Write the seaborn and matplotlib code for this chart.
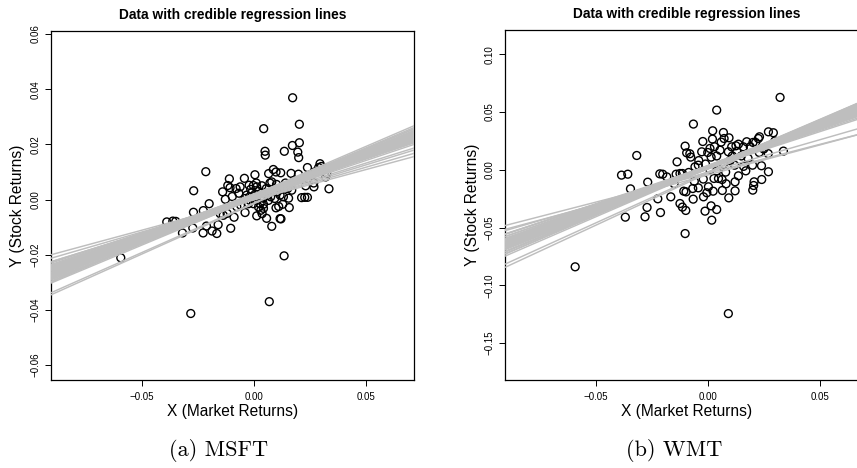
import numpy as np
import pandas as pd
import matplotlib
matplotlib.use("Agg")
import matplotlib.pyplot as plt
import seaborn as sns

sns.set_style("ticks")
plt.rcParams["font.family"] = ["Liberation Sans", "DejaVu Sans"]
plt.rcParams["text.color"] = "black"
plt.rcParams["axes.labelcolor"] = "black"
plt.rcParams["xtick.color"] = "black"
plt.rcParams["ytick.color"] = "black"

# ---------------- data ----------------
msft_x = [0.0172, 0.0043, 0.0202, 0.0202, 0.0171, 0.0135, 0.0049, 0.0050, 0.0195, 0.0199,
          -0.0215, 0.0294, 0.0238, 0.0004, -0.0043, -0.0110, 0.0065, 0.0086, 0.0098, 0.0119,
          0.0165, 0.0198, 0.0288, 0.0319, 0.0334, 0.0267, 0.0266, 0.0212, 0.0226, 0.0238,
          0.0154, 0.0157, 0.0128, 0.0116, 0.0120, 0.0079, 0.0056, 0.0098, 0.0134, 0.0068,
          -0.0282, -0.0594, -0.0269, -0.0200, -0.0270, -0.0226, -0.0389, -0.0362, -0.0349, -0.0319,
          -0.0273, -0.0227, -0.0212, -0.0187, -0.0166, -0.0160, -0.0140, -0.0128, -0.0104, -0.0089,
          -0.0040, -0.0068, -0.0117, -0.0107, -0.0097, -0.0077, -0.0022, -0.0015, -0.0003, 0.0012,
          -0.0033, 0.0012, 0.0027, 0.0042, 0.0012, 0.0030, 0.0036, 0.0042, 0.0071, 0.0079,
          0.0101, 0.0116, 0.0131, 0.0168, 0.0074, 0.0092, 0.0049, 0.0064, -0.0137, -0.0151,
          -0.0062, -0.0018, -0.0003, -0.0025, 0.0020, -0.0040, 0.0324, 0.0020, 0.0030, 0.0005,
          -0.0010, 0.0055, 0.0085, 0.0140, 0.0180, 0.0230, -0.0060, -0.0080, 0.0010, 0.0035,
          -0.0120, 0.0100, 0.0150, 0.0060, 0.0000, 0.0040, -0.0020, 0.0110, 0.0270, 0.0300]
msft_y = [0.0369, 0.0257, 0.0273, 0.0206, 0.0196, 0.0175, 0.0175, 0.0161, 0.0172, 0.0152,
          0.0101, 0.0130, 0.0116, 0.0090, 0.0077, 0.0075, 0.0094, 0.0109, 0.0100, 0.0097,
          0.0095, 0.0092, 0.0116, 0.0082, 0.0039, 0.0046, 0.0060, 0.0007, 0.0008, 0.0008,
          0.0005, -0.0029, -0.0017, -0.0069, -0.0070, -0.0097, -0.0068, -0.0030, -0.0204, -0.0370,
          -0.0413, -0.0211, 0.0032, -0.0015, -0.0046, -0.0040, -0.0081, -0.0078, -0.0079, -0.0121,
          -0.0103, -0.0121, -0.0096, -0.0114, -0.0123, -0.0091, 0.0028, 0.0001, -0.0104, -0.0064,
          -0.0047, 0.0023, 0.0051, 0.0043, 0.0011, -0.0026, 0.0052, 0.0037, 0.0051, 0.0046,
          0.0016, -0.0003, -0.0015, -0.0017, -0.0059, -0.0039, -0.0051, -0.0032, 0.0060, 0.0064,
          0.0028, 0.0016, 0.0010, 0.0034, 0.0010, 0.0004, 0.0022, -0.0003, -0.0057, -0.0051,
          0.0046, -0.0003, -0.0015, -0.0015, -0.0027, 0.0004, 0.0094, 0.0030, 0.0010, 0.0020,
          0.0025, 0.0040, 0.0030, 0.0060, 0.0070, 0.0050, -0.0020, 0.0040, 0.0060, 0.0050,
          -0.0050, 0.0055, 0.0040, 0.0015, 0.0000, 0.0005, 0.0010, -0.0025, 0.0100, 0.0120]

msft_intercept = [0.0012, 0.0008, 0.0015, 0.0010, 0.0005, 0.0018, 0.0011, 0.0014, 0.0007, 0.0020,
                  0.0003, 0.0016, 0.0009, 0.0013, 0.0006, 0.0019, 0.0010, 0.0004, 0.0017, 0.0012,
                  0.0008, 0.0015, 0.0002, 0.0021, 0.0011, 0.0007, 0.0014, 0.0018, 0.0005, 0.0010,
                  0.0013, 0.0009, 0.0016, 0.0006, 0.0012, 0.0003,
                  -0.0001, 0.0000, -0.0015, -0.0012, 0.0001, 0.0005]
msft_slope = [0.305, 0.312, 0.298, 0.320, 0.290, 0.315, 0.285, 0.330, 0.300, 0.308,
              0.325, 0.278, 0.338, 0.295, 0.318, 0.290, 0.275, 0.310, 0.335, 0.322,
              0.282, 0.345, 0.300, 0.300, 0.312, 0.328, 0.270, 0.350, 0.340, 0.295,
              0.305, 0.288, 0.322, 0.272, 0.342, 0.315,
              0.220, 0.235, 0.365, 0.360, 0.250, 0.255]

wmt_x = [0.0323, 0.0040, -0.0064, 0.0022, 0.0070, 0.0271, 0.0293, 0.0231, 0.0226, -0.0022,
         0.0021, 0.0073, 0.0095, -0.0101, -0.0317, -0.0137, -0.0094, -0.0080, -0.0076, -0.0385,
         -0.0357, -0.0345, -0.0268, -0.0214, -0.0201, -0.0183, -0.0141, -0.0124, -0.0113, -0.0085,
         -0.0057, -0.0042, -0.0368, -0.0280, -0.0271, -0.0211, -0.0223, -0.0165, -0.0124, -0.0113,
         -0.0098, -0.0101, -0.0107, -0.0097, -0.0065, -0.0067, -0.0042, -0.0019, -0.0012, 0.0015,
         0.0018, 0.0040, -0.0004, 0.0003, 0.0024, 0.0065, 0.0094, 0.0122, 0.0122, 0.0082,
         0.0064, 0.0048, 0.0028, 0.0137, 0.0170, 0.0201, 0.0205, 0.0207, 0.0241, 0.0240,
         0.0271, 0.0338, -0.0592, 0.0092, 0.0202, 0.0214, 0.0159, 0.0137, 0.0174, 0.0107,
         0.0126, 0.0092, -0.0027, 0.0000, 0.0010, 0.0030, 0.0055, 0.0040, 0.0015, -0.0040,
         -0.0010, 0.0010, 0.0070, 0.0100, 0.0120, 0.0150, 0.0180, 0.0230, 0.0250, 0.0270,
         0.0160, 0.0080, 0.0040, -0.0020, -0.0060, 0.0110, 0.0200, 0.0300, 0.0060, -0.0150,
         0.0130, 0.0190]
wmt_y = [0.0627, 0.0517, 0.0396, 0.0338, 0.0323, 0.0329, 0.0321, 0.0286, 0.0271, 0.0245,
         0.0266, 0.0271, 0.0277, 0.0205, 0.0124, 0.0069, 0.0147, 0.0139, 0.0110, -0.0046,
         -0.0038, -0.0165, -0.0107, -0.0035, -0.0038, -0.0061, -0.0038, -0.0032, -0.0032, -0.0023,
         0.0026, 0.0040, -0.0410, -0.0407, -0.0326, -0.0370, -0.0251, -0.0234, -0.0292, -0.0323,
         -0.0352, -0.0552, -0.0185, -0.0191, -0.0254, -0.0162, -0.0156, -0.0234, -0.0358, -0.0312,
         -0.0436, -0.0344, -0.0199, -0.0147, -0.0185, -0.0179, -0.0243, -0.0182, -0.0104, -0.0121,
         -0.0084, -0.0075, -0.0075, -0.0052, -0.0009, -0.0176, -0.0136, -0.0104, -0.0084, 0.0035,
         -0.0017, 0.0162, -0.0840, -0.1245, 0.0237, 0.0237, 0.0199, 0.0222, 0.0243, 0.0199,
         0.0208, 0.0156, 0.0156, 0.0150, 0.0185, 0.0200, 0.0170, 0.0120, 0.0110, 0.0080,
         0.0050, 0.0000, 0.0050, 0.0080, 0.0040, 0.0120, 0.0100, 0.0150, 0.0180, 0.0140,
         0.0030, -0.0020, -0.0010, -0.0080, -0.0100, 0.0120, 0.0040, 0.0250, 0.0240, -0.0120,
         0.0160, 0.0200]

wmt_intercept = [0.0020, 0.0015, 0.0025, 0.0018, 0.0030, 0.0012, 0.0022, 0.0028, 0.0010, 0.0035,
                 0.0017, 0.0024, 0.0008, 0.0032, 0.0019, 0.0026, 0.0014, 0.0021, 0.0029, 0.0011,
                 0.0023, 0.0016, 0.0033, 0.0009, 0.0027, 0.0020, 0.0013, 0.0031, 0.0018, 0.0025,
                 0.0006, 0.0037, 0.0015, 0.0022, 0.0019, 0.0028,
                 -0.0030, -0.0045, -0.0020, -0.0030, -0.0020]
wmt_slope = [0.740, 0.760, 0.720, 0.780, 0.700, 0.800, 0.680, 0.750, 0.730, 0.760,
             0.690, 0.810, 0.770, 0.720, 0.660, 0.790, 0.710, 0.830, 0.670, 0.750,
             0.700, 0.820, 0.740, 0.690, 0.780, 0.640, 0.840, 0.650, 0.730, 0.760,
             0.720, 0.700, 0.630, 0.770, 0.800, 0.710,
             0.500, 0.520, 0.560, 0.900, 0.880]

title_text = "Data with credible regression lines"
x_label = "X (Market Returns)"
y_label = "Y (Stock Returns)"
x_ticks = [-0.05, 0.00, 0.05]
x_tick_labels = ["\u22120.05", "0.00", "0.05"]
msft_yticks = [-0.06, -0.04, -0.02, 0.00, 0.02, 0.04, 0.06]
msft_ytick_labels = ["\u22120.06", "\u22120.04", "\u22120.02", "0.00", "0.02", "0.04", "0.06"]
wmt_yticks = [-0.15, -0.10, -0.05, 0.00, 0.05, 0.10]
wmt_ytick_labels = ["\u22120.15", "\u22120.10", "\u22120.05", "0.00", "0.05", "0.10"]
captions = ["(a) MSFT", "(b) WMT"]

# ---------------- figure ----------------
W, H = 857, 468
fig = plt.figure(figsize=(W / 100, H / 100), dpi=100)
fig.patch.set_facecolor("white")


def add_axes_px(left, top, right, bottom):
    return fig.add_axes([left / W, 1 - bottom / H, (right - left) / W, (bottom - top) / H])


panels = [
    dict(px=(51, 31, 414, 380), x=msft_x, y=msft_y, a=msft_intercept, b=msft_slope,
         xlim=(-0.0905, 0.0713), ylim=(-0.0654, 0.0611),
         yticks=msft_yticks, yticklabels=msft_ytick_labels, caption=captions[0], cap_x=219),
    dict(px=(505.3, 30.3, 868.3, 380), x=wmt_x, y=wmt_y, a=wmt_intercept, b=wmt_slope,
         xlim=(-0.0904, 0.0717), ylim=(-0.182, 0.1208),
         yticks=wmt_yticks, yticklabels=wmt_ytick_labels, caption=captions[1], cap_x=674),
]

for p in panels:
    ax = add_axes_px(*p["px"])
    ax.set_facecolor("white")
    pts = pd.DataFrame({"x": p["x"], "y": p["y"]})
    sns.scatterplot(data=pts, x="x", y="y", ax=ax, marker="o", s=32,
                    facecolor="none", edgecolor="black", linewidth=1.0, zorder=1)

    lo, hi = p["xlim"]
    xs = np.array([lo - 0.02, hi + 0.02])
    rows = []
    for i, (a, b) in enumerate(zip(p["a"], p["b"])):
        for xv in xs:
            rows.append({"draw": i, "x": xv, "y": a + b * xv})
    lines = pd.DataFrame(rows)
    sns.lineplot(data=lines, x="x", y="y", units="draw", estimator=None, sort=False,
                 color="#BEBEBE", linewidth=1.05, ax=ax, legend=False, zorder=3)

    ax.set_xlim(*p["xlim"])
    ax.set_ylim(*p["ylim"])
    ax.set_xticks(x_ticks)
    ax.set_xticklabels(x_tick_labels)
    ax.set_yticks(p["yticks"])
    ax.set_yticklabels(p["yticklabels"], rotation=90, va="center")
    ax.tick_params(axis="both", direction="out", length=4.3, width=0.7,
                   colors="black", labelsize=7)
    ax.tick_params(axis="x", pad=4.3)
    ax.tick_params(axis="y", pad=3.2)
    for sp in ax.spines.values():
        sp.set_visible(True)
        sp.set_linewidth(0.9)
        sp.set_color("black")

    ax.set_title(title_text, fontsize=9.9, fontweight="bold", pad=8.6, color="black")
    ax.set_xlabel(x_label, fontsize=11.2)
    ax.set_ylabel(y_label, fontsize=11.2)
    l, t, r, b = p["px"]
    ax.xaxis.set_label_coords(0.5, (b - 411.5) / (b - t))
    ax.xaxis.label.set_va("center")
    ax.yaxis.set_label_coords(-33.0 / (r - l), 0.5)
    ax.yaxis.label.set_va("center")

    fig.text(p["cap_x"] / W, 1 - 451 / H, p["caption"], family="cmr10",
             fontsize=16, ha="center", va="center")

fig.savefig("out.png", dpi=100, facecolor="white")
